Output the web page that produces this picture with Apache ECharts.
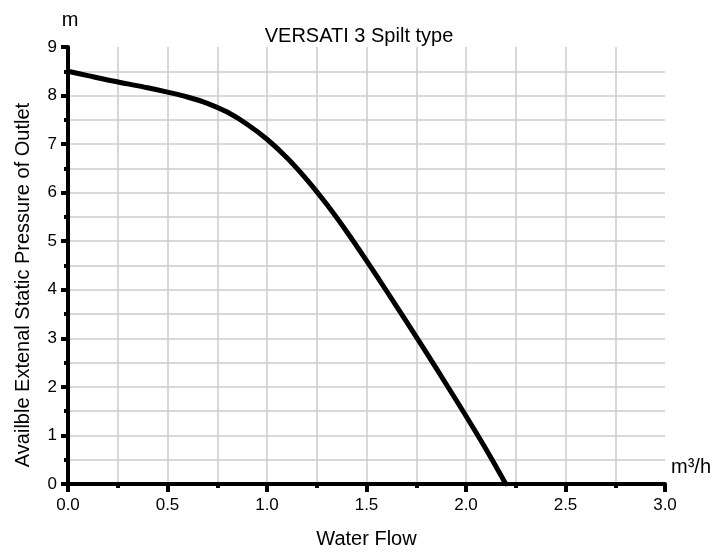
<!DOCTYPE html>
<html>
<head>
<meta charset="utf-8">
<script src="https://cdn.jsdelivr.net/npm/echarts@6/dist/echarts.min.js"></script>
<style>html,body{margin:0;padding:0;background:#fff}#c{width:714px;height:554px}</style>
</head>
<body>
<div id="c"></div>
<script>
const titleText = 'VERSATI 3 Spilt type';
const xName = 'Water Flow';
const yName = 'Availble Extenal Static Pressure of Outlet';
const yUnit = 'm';
const xUnit = 'm³/h';
const flow = [0, 0.1, 0.2, 0.3, 0.4, 0.5, 0.6, 0.7, 0.8, 0.9, 1.0, 1.1, 1.2, 1.3, 1.4, 1.5, 1.6, 1.7, 1.8, 1.9, 2.0, 2.1, 2.2];
const pressure = [8.5, 8.41, 8.32, 8.24, 8.16, 8.07, 7.97, 7.84, 7.66, 7.41, 7.1, 6.72, 6.27, 5.76, 5.2, 4.6, 3.98, 3.35, 2.71, 2.06, 1.4, 0.72, 0];

const FONT = '"Liberation Sans", Arial, sans-serif';
const chart = echarts.init(document.getElementById('c'), null, {renderer: 'canvas'});
chart.setOption({
  backgroundColor: '#fff',
  animation: false,
  title: {
    text: titleText, left: 354, top: 21, textAlign: 'center',
    textStyle: {fontFamily: FONT, fontSize: 20, fontWeight: 'normal', color: '#000'}
  },
  grid: {left: 68, right: 49, top: 47, bottom: 64, containLabel: false},
  xAxis: {
    type: 'value', min: 0, max: 3, interval: 0.5,
    name: xName, nameLocation: 'middle', nameGap: 45,
    nameTextStyle: {fontFamily: FONT, fontSize: 20, color: '#000'},
    axisLine: {show: true, onZero: false, lineStyle: {color: '#000', width: 4}},
    axisTick: {show: true, length: 8, lineStyle: {color: '#000', width: 4}},
    minorTick: {show: true, splitNumber: 2, length: 4, lineStyle: {color: '#000', width: 4}},
    axisLabel: {margin: 13, fontFamily: FONT, fontSize: 17, color: '#000',
      formatter: v => v.toFixed(1)},
    splitLine: {show: true, showMaxLine: false, showMinLine: false, lineStyle: {color: '#cccccc', width: 1.5}},
    minorSplitLine: {show: true, lineStyle: {color: '#cccccc', width: 1.5}}
  },
  yAxis: {
    type: 'value', min: 0, max: 9, interval: 1,
    axisLine: {show: true, onZero: false, lineStyle: {color: '#000', width: 4}},
    axisTick: {show: true, length: 7, lineStyle: {color: '#000', width: 4}},
    minorTick: {show: true, splitNumber: 2, length: 4, lineStyle: {color: '#000', width: 4}},
    axisLabel: {margin: 11, fontFamily: FONT, fontSize: 17, color: '#000'},
    splitLine: {show: true, showMaxLine: false, showMinLine: false, lineStyle: {color: '#cccccc', width: 1.5}},
    minorSplitLine: {show: true, lineStyle: {color: '#cccccc', width: 1.5}}
  },
  graphic: [
    {type: 'text', rotation: Math.PI / 2, x: 23, y: 285,
      style: {text: yName, fontFamily: FONT, fontSize: 20, fill: '#000', align: 'center', verticalAlign: 'middle'}},
    {type: 'text', x: 70, y: 20,
      style: {text: yUnit, fontFamily: FONT, fontSize: 20, fill: '#000', align: 'center', verticalAlign: 'middle'}},
    {type: 'text', x: 671, y: 467,
      style: {text: xUnit, fontFamily: FONT, fontSize: 20, fill: '#000', align: 'left', verticalAlign: 'middle'}}
  ],
  series: [{
    type: 'line', data: flow.map((x, i) => [x, pressure[i]]),
    smooth: 0.3, showSymbol: false, symbol: 'none',
    lineStyle: {color: '#000', width: 5, cap: 'round', join: 'round'}
  }]
});
</script>
</body>
</html>
